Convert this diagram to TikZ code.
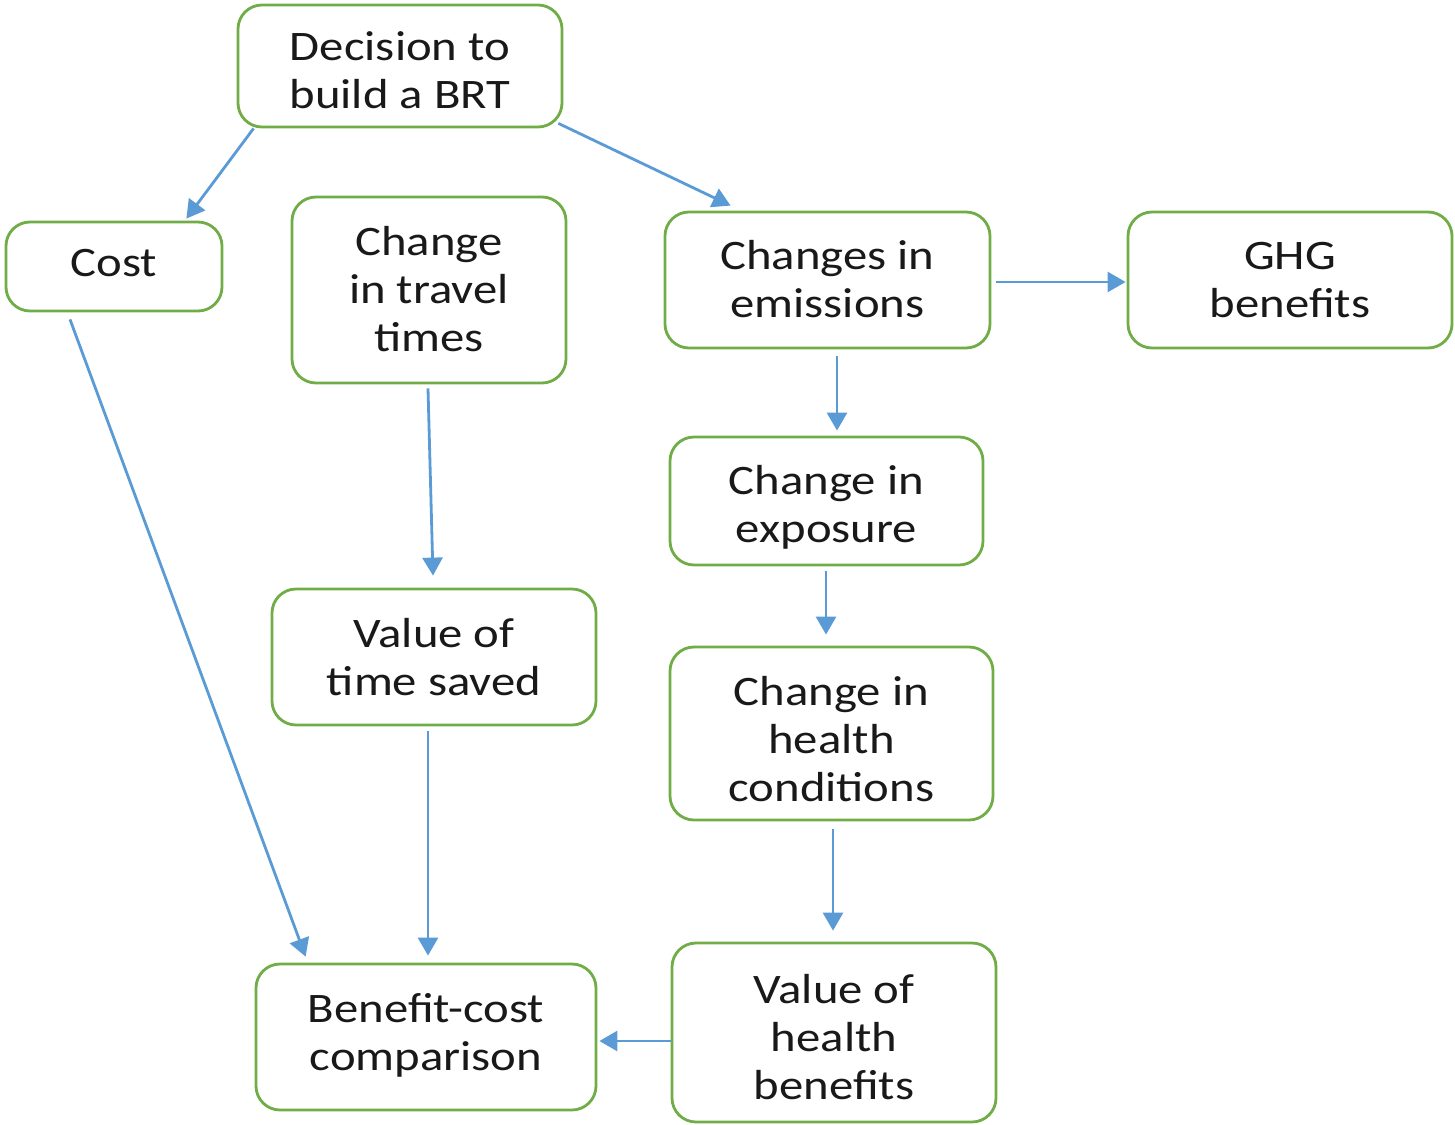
\documentclass[tikz,border=0pt]{standalone}
\usepackage{fontspec}
\setmainfont[FakeStretch=1.16]{Carlito}
\usetikzlibrary{arrows.meta}
\definecolor{boxgreen}{RGB}{112,173,71}
\definecolor{arrowblue}{RGB}{91,155,213}
\newcommand\boxtext[2]{\raisebox{#1}[\height][\depth]{\begin{tabular}{@{}c@{}}#2\end{tabular}}}
\begin{document}
\begin{tikzpicture}[x=0.5pt,y=-0.5pt,
  box/.style={draw=boxgreen, line width=1.4pt, rounded corners=12pt, fill=white,
    align=center, inner sep=0pt, font=\fontsize{21}{24}\selectfont, text=black!90},
  conn/.style={draw=arrowblue, line width=1.4pt, -{Triangle[length=9pt,width=10pt]}}]
\useasboundingbox (0,0) rectangle (1455,1124);
\node[box, minimum width=162pt, minimum height=61pt] (dec) at (400,66) {\boxtext{-4.5pt}{Decision to\\build a BRT}};
\node[box, minimum width=108pt, minimum height=44.5pt] (cost) at (114,266.5) {\boxtext{0pt}{Cost}};
\node[box, minimum width=137pt, minimum height=93pt] (trav) at (429,290) {\boxtext{-2pt}{Change\\in travel\\times}};
\node[box, minimum width=162.5pt, minimum height=68pt] (emis) at (827.5,280) {\boxtext{-1.75pt}{Changes in\\emissions}};
\node[box, minimum width=162pt, minimum height=68pt] (ghg) at (1290,280) {\boxtext{-1.75pt}{GHG\\benefits}};
\node[box, minimum width=156.5pt, minimum height=64pt] (expo) at (826.5,501) {\boxtext{-3.75pt}{Change in\\exposure}};
\node[box, minimum width=162pt, minimum height=68pt] (vts) at (434,657) {\boxtext{-2.25pt}{Value of\\time saved}};
\node[box, minimum width=161.5pt, minimum height=86.5pt] (hc) at (831.5,733.5) {\boxtext{-5pt}{Change in\\health\\conditions}};
\node[box, minimum width=170pt, minimum height=73pt] (bcc) at (426,1037) {\boxtext{0.25pt}{Benefit-cost\\comparison}};
\node[box, minimum width=162pt, minimum height=89.5pt] (vhb) at (834,1032.5) {\boxtext{-4.5pt}{Value of\\health\\benefits}};

\draw[conn] ([xshift=8.5pt]dec.south west) -- ([xshift=-18.5pt,yshift=1pt]cost.north east);
\draw[conn] ([xshift=-2.5pt,yshift=2.5pt]dec.south east) -- ([xshift=33.5pt,yshift=2.5pt]emis.north west);
\draw[conn] ([xshift=-22pt,yshift=-3.5pt]cost.south) -- ([xshift=25.5pt,yshift=3pt]bcc.north west);
\draw[conn] ([xshift=-0.5pt,yshift=-2pt]trav.south) -- ([xshift=-0.5pt,yshift=6pt]vts.north);
\draw[conn] ([xshift=-3pt,yshift=-2.5pt]vts.south) -- ([xshift=1pt,yshift=3.5pt]bcc.north);
\draw[conn] ([xshift=2.5pt,yshift=-1pt]emis.east) -- ([xshift=-0.5pt,yshift=-1pt]ghg.west);
\draw[conn] ([xshift=4.75pt,yshift=-3.5pt]emis.south) -- ([xshift=5.25pt,yshift=2.5pt]expo.north);
\draw[conn] ([xshift=-0.25pt,yshift=-2.5pt]expo.south) -- ([xshift=-2.75pt,yshift=5.5pt]hc.north);
\draw[conn] ([xshift=0.75pt,yshift=-4pt]hc.south) -- ([xshift=-0.5pt,yshift=5.5pt]vhb.north);
\draw[conn] ([yshift=-4.25pt]vhb.west) -- ([xshift=1pt,yshift=-2pt]bcc.east);
\end{tikzpicture}
\end{document}
